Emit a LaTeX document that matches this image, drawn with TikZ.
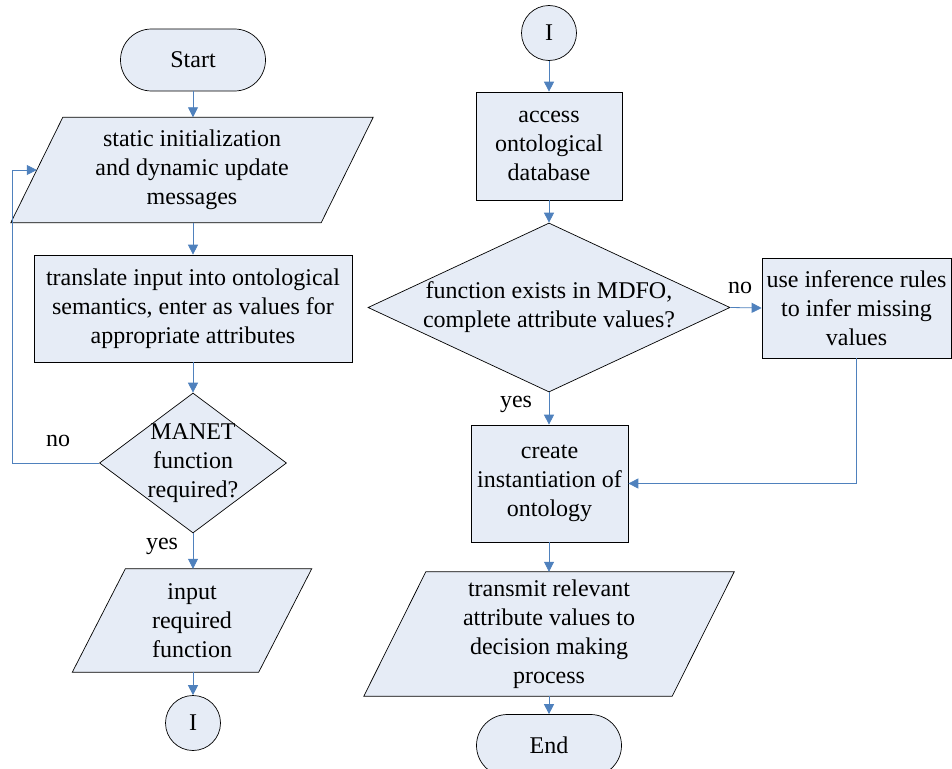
\documentclass[tikz,border=0pt]{standalone}
\usepackage{fontspec}
\setmainfont{Liberation Serif}
\usetikzlibrary{shapes.geometric,arrows.meta,backgrounds}
\definecolor{boxfill}{RGB}{230,236,246}
\definecolor{linkblue}{RGB}{79,129,189}
\begin{document}
\begin{tikzpicture}[x=1pt,y=-1pt,
  font=\fontsize{24}{29}\selectfont,
  base/.style={draw=black, line width=0.7pt, fill=boxfill, inner sep=0pt, align=center},
  procbox/.style={base, rectangle},
  term/.style={base, rectangle, rounded corners=31pt, minimum width=145pt, minimum height=62pt},
  conn/.style={base, circle, minimum size=55pt},
  decision/.style={base, diamond},
  holder/.style={rectangle, inner sep=0pt, align=center},
  iofill/.style={draw=black, line width=0.7pt, fill=boxfill},
  flow/.style={draw=linkblue, line width=0.8pt, -{Triangle[length=10pt,width=10pt]}},
  lbl/.style={inner sep=0pt}
]
\useasboundingbox (0,0) rectangle (952,768);

% left column
\node[term] (start) at (193,60) {Start};
\node[holder, minimum width=310pt, minimum height=105pt] (p1) at (192,170)
  {static initialization\\and dynamic update\\messages};
\node[procbox, minimum width=318pt, minimum height=107pt] (r1) at (193,308.5)
  {translate input into ontological\\semantics, enter as values for\\appropriate attributes};
\node[decision, minimum width=187pt, minimum height=140pt] (d1) at (193,463) {};
\node[holder] (d1t) at (d1.center) {MANET\\function\\required?};
\node[holder, minimum width=186pt, minimum height=103pt] (p2) at (192,620.5)
  {input\\required\\function};
\node[conn] (c1) at (193,723) {I};

% right column
\node[conn] (c2) at (549,33) {I};
\node[procbox, minimum width=146pt, minimum height=108pt] (r2) at (549,146)
  {access\\ontological\\database};
\node[decision, minimum width=362pt, minimum height=169pt] (d2) at (549,307.5) {};
\node[holder] (d2t) at (d2.center) {function exists in MDFO,\\complete attribute values?};
\node[procbox, minimum width=189pt, minimum height=100pt] (r3) at (856.5,308)
  {use inference rules\\to infer missing\\values};
\node[procbox, minimum width=157pt, minimum height=117pt] (r4) at (549.5,483.5)
  {create\\instantiation of\\ontology};
\node[holder, minimum width=308pt, minimum height=124pt] (p3) at (549,634)
  {transmit relevant\\attribute values to\\decision making\\process};
\node[term] (end) at (549,745.5) {End};

% parallelograms
\begin{scope}[on background layer]
  \draw[iofill] ([xshift=26pt]p1.north west) -- ([xshift=26pt]p1.north east)
    -- ([xshift=-26pt]p1.south east) -- ([xshift=-26pt]p1.south west) -- cycle;
  \draw[iofill] ([xshift=26.5pt]p2.north west) -- ([xshift=26.5pt]p2.north east)
    -- ([xshift=-26.5pt]p2.south east) -- ([xshift=-26.5pt]p2.south west) -- cycle;
  \draw[iofill] ([xshift=31pt]p3.north west) -- ([xshift=31pt]p3.north east)
    -- ([xshift=-31pt]p3.south east) -- ([xshift=-31pt]p3.south west) -- cycle;
\end{scope}

% labels
\node[lbl] (no1) at (58,441) {no};
\node[lbl] (yes1) at (162,546) {yes};
\node[lbl] (no2) at (740,288) {no};
\node[lbl] (yes2) at (516,404) {yes};

% connectors
\coordinate (loopc) at (12,463);
\draw[flow] (start.south) -- (start.south |- p1.north);
\draw[flow] (p1.south -| r1.north) -- (r1.north);
\draw[flow] (r1.south) -- (d1.north);
\draw[flow] (d1.west) -- (loopc) |- (p1.west);
\draw[flow] (d1.south) -- (d1.south |- p2.north);
\draw[flow] (p2.south -| c1.north) -- (c1.north);

\draw[flow] (c2.south) -- (c2.south |- r2.north);
\draw[flow] (r2.south -| d2.north) -- (d2.north);
\draw[flow] (d2.east) -- (r3.west);
\draw[flow] (d2.south) -- (d2.south |- r4.north);
\draw[flow] (r3.south) |- (r4.east);
\draw[flow] (r4.south -| p3.north) -- (p3.north);
\draw[flow] (p3.south) -- (p3.south |- end.north);
\end{tikzpicture}
\end{document}
